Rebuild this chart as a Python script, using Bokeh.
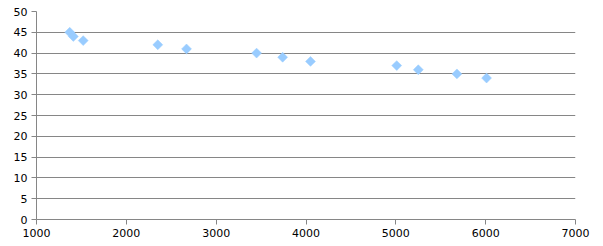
import math
from bokeh.plotting import figure
from bokeh.models import FixedTicker, Range1d
from bokeh.embed import file_html
from bokeh.resources import INLINE

x_vals = [1370, 1410, 1520, 2350, 2670, 3450, 3740, 4050, 5010, 5250, 5680, 6010]
y_vals = [45, 44, 43, 42, 41, 40, 39, 38, 37, 36, 35, 34]
x_ticks = [1000, 2000, 3000, 4000, 5000, 6000, 7000]
y_ticks = [0, 5, 10, 15, 20, 25, 30, 35, 40, 45, 50]

p = figure(width=603, height=246, output_backend="svg", toolbar_location=None,
           x_range=Range1d(1000, 7000), y_range=Range1d(0, 50),
           min_border_left=36, min_border_right=28, min_border_top=11, min_border_bottom=27)
p.outline_line_color = None
p.background_fill_color = "white"
p.border_fill_color = "white"

p.scatter(x_vals, y_vals, marker="square", angle=math.pi / 4, size=7, fill_color="#99CCFF",
          line_color="#99CCFF", line_width=0.5)

grid_col = "#868686"
p.xgrid.grid_line_color = None
p.ygrid.grid_line_color = grid_col
p.ygrid.ticker = FixedTicker(ticks=y_ticks)

for ax, ticks in ((p.xaxis[0], x_ticks), (p.yaxis[0], y_ticks)):
    ax.ticker = FixedTicker(ticks=ticks)
    ax.axis_line_color = grid_col
    ax.major_tick_line_color = grid_col
    ax.minor_tick_line_color = None
    ax.major_tick_out = 5
    ax.major_tick_in = 0
    ax.major_label_text_font = "DejaVu Sans"
    ax.major_label_text_font_size = "11px"
    ax.major_label_text_color = "#000000"
p.xaxis.major_label_standoff = 4
p.yaxis.major_label_standoff = 4

open("out.html", "w").write(file_html(p, INLINE))
